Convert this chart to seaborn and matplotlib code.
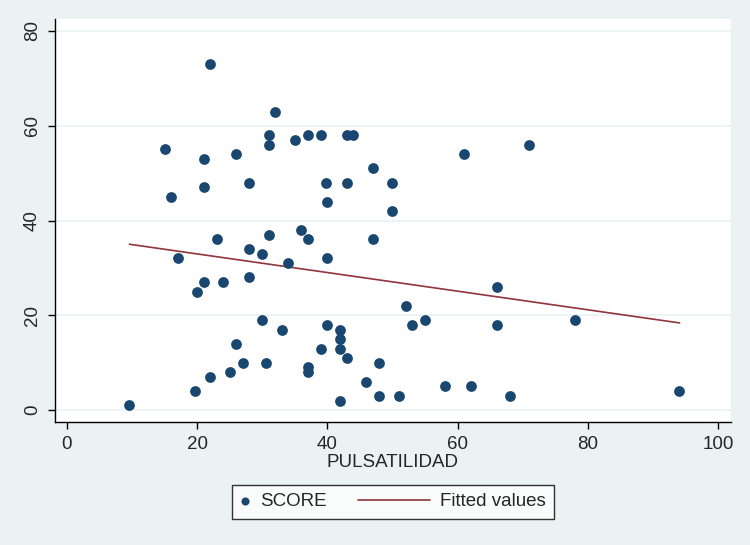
import matplotlib
matplotlib.use("Agg")
import matplotlib.pyplot as plt
from matplotlib.legend_handler import HandlerLine2D
import seaborn as sns
import pandas as pd

# puntos
pulsatilidad = [9.6, 15, 16, 17, 19.7, 20, 21, 21, 21, 22, 22, 23, 24, 25, 26, 26, 27,
                28, 28, 28, 30, 30, 30.5, 31, 31, 31, 32, 33, 34, 35, 36, 37, 37, 37, 37,
                39, 39, 39.8, 40, 40, 40, 42, 42, 42, 42, 43, 44, 43, 43, 46, 47, 47, 48,
                48, 50, 50, 51, 52, 53, 55, 58, 61, 62, 66, 66, 68, 71, 78, 94]
score = [1, 55, 45, 32, 4, 25, 53, 47, 27, 73, 7, 36, 27, 8, 54, 14, 10,
         48, 34, 28, 33, 19, 10, 58, 56, 37, 63, 17, 31, 57, 38, 58, 36, 9, 8,
         58, 13, 48, 44, 32, 18, 17, 15, 13, 2, 58, 58, 48, 11, 6, 51, 36, 10,
         3, 48, 42, 3, 22, 18, 19, 5, 54, 5, 26, 18, 3, 56, 19, 4]

# recta ajustada (extremos leidos)
fit_x = [9.6, 94.1]
fit_y = [35.0, 18.4]

bg = "#EAF2F3"
navy = "#1A476F"
maroon = "#90353B"
fs = 13.5


class LongLine(HandlerLine2D):
    # linea de leyenda mas larga que el hueco del marcador
    def create_artists(self, legend, orig_handle, xdescent, ydescent, width, height, fontsize, trans):
        extra = 3.34 * fontsize
        return super().create_artists(legend, orig_handle, xdescent + extra, ydescent,
                                      width + extra, height, fontsize, trans)


sns.set_style("white")
plt.rcParams['font.family'] = ['Liberation Sans', 'DejaVu Sans']

df = pd.DataFrame({"PULSATILIDAD": pulsatilidad, "SCORE": score})
df_fit = pd.DataFrame({"x": fit_x, "y": fit_y})

fig = plt.figure(figsize=(7.5, 5.45), dpi=100, facecolor=bg)
ax = fig.add_axes([0.0733, 0.2257, 0.9014, 0.7393])
ax.set_facecolor("white")

sns.scatterplot(data=df, x="PULSATILIDAD", y="SCORE", ax=ax, color=navy, s=60,
                edgecolor=navy, linewidth=0, label="SCORE", zorder=3)
sns.lineplot(data=df_fit, x="x", y="y", ax=ax, color=maroon, linewidth=1.2,
             label="Fitted values", zorder=2)

ax.set_xlim(-1.84, 102)
ax.set_ylim(-2.5, 82.5)
ax.set_xticks([0, 20, 40, 60, 80, 100])
ax.set_yticks([0, 20, 40, 60, 80])
ax.yaxis.grid(True, color=bg, linewidth=1.2)
ax.set_axisbelow(True)

for s in ["top", "right"]:
    ax.spines[s].set_visible(False)
for s in ["left", "bottom"]:
    ax.spines[s].set_color("black")
    ax.spines[s].set_linewidth(1.0)

ax.tick_params(axis="both", direction="out", length=5, width=1, color="black",
               labelsize=fs, pad=5, left=True, bottom=True)
for lbl in ax.get_yticklabels():
    lbl.set_rotation(90)
    lbl.set_va("center")

ax.set_xlabel("PULSATILIDAD", fontsize=fs, labelpad=1)
ax.set_ylabel("")

ax.get_legend().remove()
handles, labels = ax.get_legend_handles_labels()
leg = fig.legend(handles, labels, loc="center", bbox_to_anchor=(393 / 750, 1 - 501.5 / 545),
                 ncol=2, frameon=True, fancybox=False, fontsize=fs,
                 handlelength=0.5, columnspacing=5.0, markerscale=0.75,
                 borderpad=0.45, handletextpad=0.55,
                 handler_map={handles[1]: LongLine()})
leg.get_frame().set_edgecolor("black")
leg.get_frame().set_linewidth(1.0)
leg.get_frame().set_facecolor("white")

fig.savefig("out.png", dpi=100, facecolor=bg)
